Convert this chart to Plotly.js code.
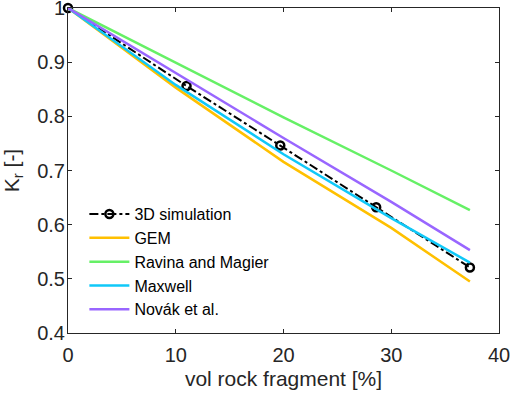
<!DOCTYPE html>
<html>
<head>
<meta charset="utf-8">
<script src="https://cdn.plot.ly/plotly-3.0.1.min.js"></script>
<style>
  html, body { margin: 0; padding: 0; background: #fff; }
  #chart { width: 512px; height: 396px; }
</style>
</head>
<body>
<div id="chart"></div>
<script>
// rock fragment content [%] vs relative thermal conductivity K_r
var simX = [0, 11.0, 19.7, 28.6, 37.3];
var simY = [1, 0.856, 0.746, 0.632, 0.521];

var modelX = [0, 10, 20, 30, 37.3];
var gemY = [1, 0.853, 0.716, 0.594, 0.495];
var ravinaY = [1, 0.899, 0.798, 0.700, 0.627];
var maxwellY = [1, 0.858, 0.730, 0.612, 0.530];
var novakY = [1, 0.880, 0.760, 0.642, 0.553];

var names = ['3D simulation', 'GEM', 'Ravina and Magier', 'Maxwell', 'Novák et al.'];

var xTicks = [0, 10, 20, 30, 40];
var yTicks = [0.4, 0.5, 0.6, 0.7, 0.8, 0.9, 1];

var font = 'Liberation Sans, Arial, sans-serif';
var ink = '#262626';

var data = [
  {
    x: simX, y: simY, name: names[0], type: 'scatter', mode: 'lines+markers',
    cliponaxis: false,
    line: {color: '#000000', width: 2, dash: 'dashdot'},
    marker: {symbol: 'circle-open', size: 8, color: '#000000', line: {width: 2.5}}
  },
  {x: modelX, y: gemY, name: names[1], type: 'scatter', mode: 'lines',
   line: {color: '#FFC000', width: 2.5}},
  {x: modelX, y: ravinaY, name: names[2], type: 'scatter', mode: 'lines',
   line: {color: '#66F066', width: 2.5}},
  {x: modelX, y: maxwellY, name: names[3], type: 'scatter', mode: 'lines',
   line: {color: '#10C8F8', width: 2.5}},
  {x: modelX, y: novakY, name: names[4], type: 'scatter', mode: 'lines',
   line: {color: '#9966FF', width: 2.5}}
];

var layout = {
  width: 512, height: 396,
  margin: {l: 68, r: 13, t: 8, b: 63},
  paper_bgcolor: '#fff', plot_bgcolor: '#fff',
  font: {family: font, size: 17, color: ink},
  showlegend: true,
  legend: {
    x: 0.038, y: 0.418, xanchor: 'left', yanchor: 'top',
    bgcolor: 'rgba(255,255,255,0)', borderwidth: 0,
    itemwidth: 40, font: {family: font, size: 16, color: '#000'},
    tracegroupgap: 0
  },
  xaxis: {
    range: [0, 40], tickvals: xTicks, ticktext: xTicks.map(String),
    ticks: 'inside', ticklen: 4, tickcolor: ink, mirror: 'ticks',
    showline: true, linecolor: ink, linewidth: 1, showgrid: false, zeroline: false,
    ticklabeloverflow: 'allow', ticklabelstandoff: 4,
    tickfont: {size: 20, color: ink},
    title: {text: 'vol rock fragment [%]', font: {size: 21, color: ink}, standoff: 6}
  },
  yaxis: {
    range: [0.4, 1], tickvals: yTicks, ticktext: yTicks.map(String),
    ticks: 'inside', ticklen: 4, tickcolor: ink, mirror: 'ticks',
    showline: true, linecolor: ink, linewidth: 1, showgrid: false, zeroline: false,
    ticklabeloverflow: 'allow', ticklabelstandoff: -2,
    tickfont: {size: 20, color: ink},
    title: {text: 'K<sub>r</sub> [-]', font: {size: 21, color: ink}, standoff: 13}
  }
};

Plotly.newPlot('chart', data, layout, {displayModeBar: false, staticPlot: true});
</script>
</body>
</html>
